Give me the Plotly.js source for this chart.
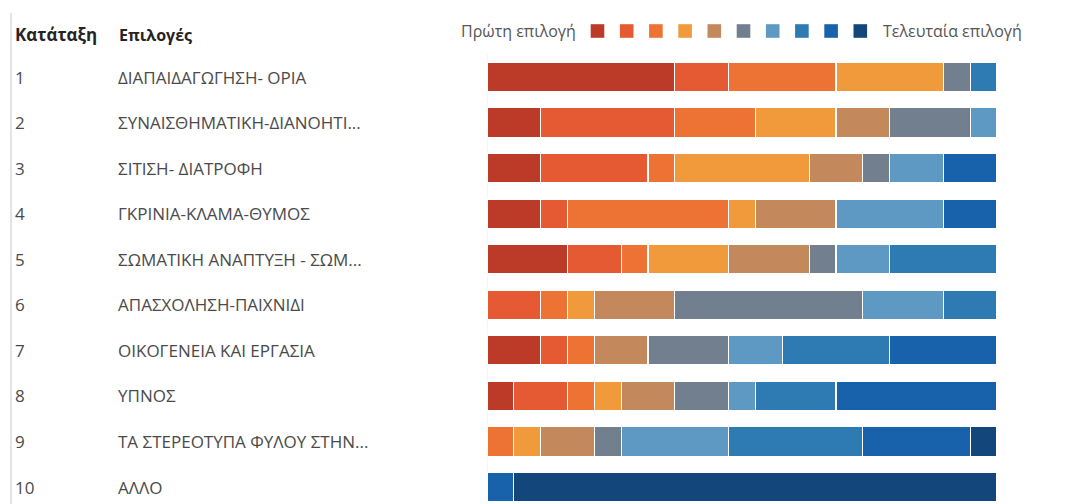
<!DOCTYPE html>
<html>
<head>
<meta charset="utf-8">
<script src="https://cdn.plot.ly/plotly-3.0.1.min.js"></script>
<style>
html,body{margin:0;padding:0;background:#fff;}
#chart{width:1087px;height:504px;}
</style>
</head>
<body>
<div id="chart"></div>
<script>
// Row ranks and option labels
const ranks = [1, 2, 3, 4, 5, 6, 7, 8, 9, 10];
const options = [
  "ΔΙΑΠΑΙΔΑΓΩΓΗΣΗ- ΟΡΙΑ",
  "ΣΥΝΑΙΣΘΗΜΑΤΙΚΗ-ΔΙΑΝΟΗΤΙ...",
  "ΣΙΤΙΣΗ- ΔΙΑΤΡΟΦΗ",
  "ΓΚΡΙΝΙΑ-ΚΛΑΜΑ-ΘΥΜΟΣ",
  "ΣΩΜΑΤΙΚΗ ΑΝΑΠΤΥΞΗ - ΣΩΜ...",
  "ΑΠΑΣΧΟΛΗΣΗ-ΠΑΙΧΝΙΔΙ",
  "ΟΙΚΟΓΕΝΕΙΑ ΚΑΙ ΕΡΓΑΣΙΑ",
  "ΥΠΝΟΣ",
  "ΤΑ ΣΤΕΡΕΟΤΥΠΑ ΦΥΛΟΥ ΣΤΗΝ...",
  "ΑΛΛΟ"
];
// Number of respondents who put each option at choice position 1..10 (one array per position)
const choice1  = [7, 2, 2, 2, 3, 0, 2, 1, 0, 0];
const choice2  = [2, 5, 4, 1, 2, 2, 1, 2, 0, 0];
const choice3  = [4, 3, 1, 6, 1, 1, 1, 1, 1, 0];
const choice4  = [4, 3, 5, 1, 3, 1, 0, 1, 1, 0];
const choice5  = [0, 2, 2, 3, 3, 3, 2, 2, 2, 0];
const choice6  = [1, 3, 1, 0, 1, 7, 3, 2, 1, 0];
const choice7  = [0, 1, 2, 4, 2, 3, 2, 1, 4, 0];
const choice8  = [1, 0, 0, 0, 4, 2, 4, 3, 5, 0];
const choice9  = [0, 0, 2, 2, 0, 0, 4, 6, 4, 1];
const choice10 = [0, 0, 0, 0, 0, 0, 0, 0, 1, 18];
const choiceSeries = [choice1, choice2, choice3, choice4, choice5, choice6, choice7, choice8, choice9, choice10];
const colors = ["#bc3a28", "#e65a33", "#ec7333", "#f19a3b", "#c4885d",
                "#717f8e", "#5d99c3", "#2e7ab3", "#1862ac", "#13477c"];
const headerRank = "Κατάταξη";
const headerOptions = "Επιλογές";
const legendFirst = "Πρώτη επιλογή";
const legendLast = "Τελευταία επιλογή";

const FONT = "'Open Sans', 'Noto Sans', sans-serif";
const W = 1087, H = 504;
const px = x => x / W;
const py = y => 1 - y / H;

const traces = choiceSeries.map((vals, i) => ({
  type: 'bar',
  orientation: 'h',
  x: vals,
  y: ranks,
  name: 'Επιλογή ' + (i + 1),
  width: 0.645,
  marker: {color: colors[i], line: {color: '#ffffff', width: 1.2}},
  hoverinfo: 'x',
  showlegend: false
}));

const annotations = [];
annotations.push({xref: 'paper', yref: 'paper', x: px(13), y: py(35), xanchor: 'left', yanchor: 'middle',
  text: '<b>' + headerRank + '</b>', showarrow: false, font: {family: FONT, size: 17, color: '#252423'}});
annotations.push({xref: 'paper', yref: 'paper', x: px(117), y: py(35), xanchor: 'left', yanchor: 'middle',
  text: '<b>' + headerOptions + '</b>', showarrow: false, font: {family: FONT, size: 16, color: '#252423'}});
annotations.push({xref: 'paper', yref: 'paper', x: px(578), y: py(31), xanchor: 'right', yanchor: 'middle',
  text: legendFirst, showarrow: false, font: {family: FONT, size: 16, color: '#555555'}});
annotations.push({xref: 'paper', yref: 'paper', x: px(881), y: py(31), xanchor: 'left', yanchor: 'middle',
  text: legendLast, showarrow: false, font: {family: FONT, size: 16, color: '#555555'}});
ranks.forEach((r, i) => {
  annotations.push({xref: 'paper', yref: 'y', x: px(13), y: r, xanchor: 'left', yanchor: 'middle',
    text: String(r), showarrow: false, font: {family: FONT, size: 17, color: '#4a4a4a'}});
  annotations.push({xref: 'paper', yref: 'y', x: px(116), y: r, xanchor: 'left', yanchor: 'middle',
    text: options[i], showarrow: false, font: {family: FONT, size: 17, color: '#4a4a4a'}});
});

// Colour key squares (first choice ... last choice)
const keyShapes = colors.map((c, i) => {
  const cx = 597.5 + i * 29.2;
  return {type: 'rect', xref: 'paper', yref: 'paper',
          x0: px(cx - 6.8), x1: px(cx + 6.8), y0: py(31 - 6.8), y1: py(31 + 6.8),
          fillcolor: c, line: {width: 0}};
});

const layout = {
  width: W, height: H,
  margin: {l: 0, r: 0, t: 0, b: 0, autoexpand: false},
  paper_bgcolor: '#ffffff', plot_bgcolor: '#ffffff',
  barmode: 'stack',
  bargap: 0,
  font: {family: FONT},
  xaxis: {domain: [px(487), px(997)], range: [0, 19], showgrid: false, zeroline: false,
          showticklabels: false, showline: false, fixedrange: true},
  yaxis: {domain: [0, py(54)], range: [10.372, 0.495], showgrid: false, zeroline: false,
          showticklabels: false, showline: false, fixedrange: true},
  showlegend: false,
  annotations: annotations,
  shapes: [
    {type: 'line', xref: 'paper', yref: 'paper', x0: px(11), x1: px(11), y0: py(13), y1: 0,
     line: {color: '#e4e4e4', width: 2}},
    {type: 'line', xref: 'x', yref: 'paper', x0: 0, x1: 0, y0: py(54), y1: 0,
     line: {color: '#eeeeee', width: 1}, layer: 'below'}
  ].concat(keyShapes)
};

Plotly.newPlot('chart', traces, layout, {displayModeBar: false, staticPlot: true});
</script>
</body>
</html>
